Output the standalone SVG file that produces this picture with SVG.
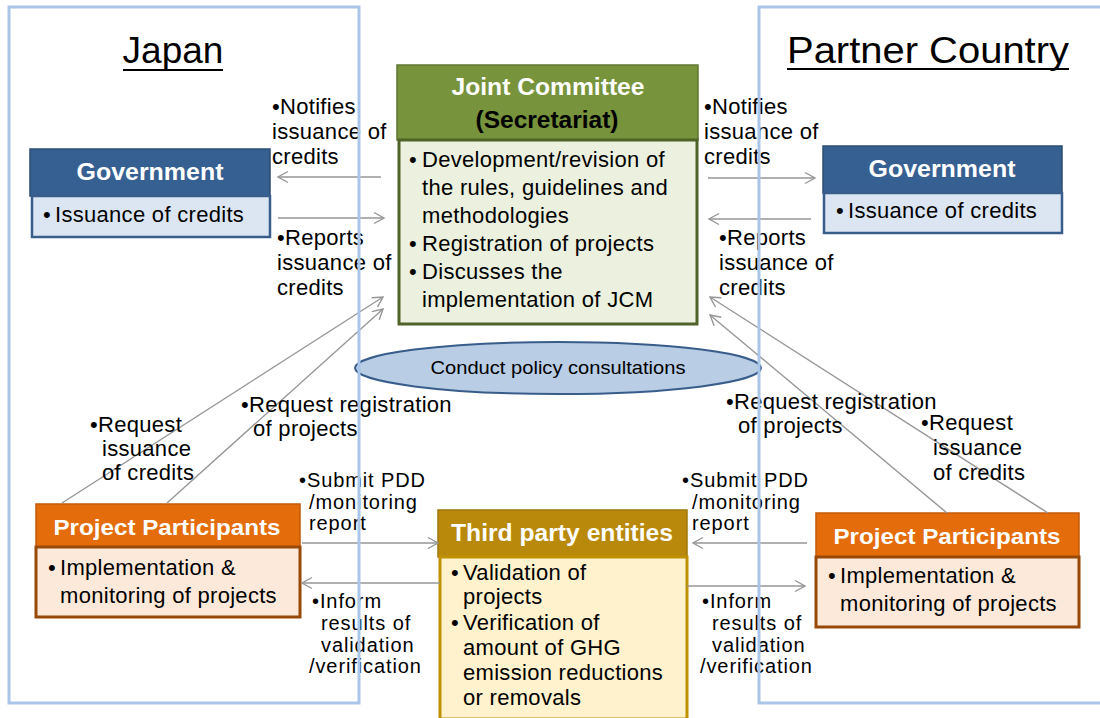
<svg xmlns="http://www.w3.org/2000/svg" width="1100" height="718" viewBox="0 0 1100 718">
<style>
text{font-family:"Liberation Sans",Arial,sans-serif;fill:#000}
.t{font-size:22px;letter-spacing:0.3px}
.tt{font-size:20px;letter-spacing:0.9px}
.hd{font-size:23px;font-weight:bold;fill:#fff;text-anchor:middle}
.ttl{font-size:37px;text-anchor:middle}
.panel{fill:none;stroke:#a9c6ea;stroke-width:3}
.arr{stroke:#969696;stroke-width:1.4;fill:none;marker-end:url(#ah)}
.ul{stroke:#000;stroke-width:2}
</style>
<defs>
<marker id="ah" markerUnits="userSpaceOnUse" markerWidth="14" markerHeight="14" refX="11" refY="7" orient="auto">
<path d="M1,1.5 L11,7 L1,12.5" fill="none" stroke="#969696" stroke-width="1.4"/>
</marker>
</defs>
<rect width="1100" height="718" fill="#fff"/>

<g id="japan-title">
<text class="ttl" x="173" y="63">Japan</text>
<line class="ul" x1="123" y1="70" x2="223" y2="70"/>
</g>
<g id="partner-title">
<text class="ttl" x="928" y="63" textLength="282" lengthAdjust="spacingAndGlyphs">Partner Country</text>
<line class="ul" x1="787" y1="69" x2="1069" y2="69"/>
</g>

<g id="joint-committee">
<rect x="397" y="65" width="301" height="75" fill="#77933c" stroke="#5f7530" stroke-width="1.5"/>
<rect x="399" y="140" width="298" height="184" fill="#ebf1de" stroke="#4f6228" stroke-width="3"/>
<text class="hd" x="548" y="95" textLength="193" lengthAdjust="spacingAndGlyphs">Joint Committee</text>
<text class="hd" x="547" y="128" style="fill:#000" textLength="143" lengthAdjust="spacingAndGlyphs">(Secretariat)</text>
<text class="t"><tspan x="409" y="167">•</tspan><tspan x="422" y="167">Development/revision  of</tspan></text>
<text class="t" x="422" y="195">the rules, guidelines and</text>
<text class="t" x="422" y="223">methodologies</text>
<text class="t"><tspan x="409" y="251">•</tspan><tspan x="422" y="251">Registration of projects</tspan></text>
<text class="t"><tspan x="409" y="279">•</tspan><tspan x="422" y="279">Discusses the</tspan></text>
<text class="t" x="422" y="307">implementation of JCM</text>
</g>

<g id="policy-consultations">
<ellipse cx="558" cy="368" rx="203" ry="26" fill="#b9cde5" stroke="#385d8a" stroke-width="2"/>
<text x="558" y="374" style="font-size:19px;text-anchor:middle" textLength="255" lengthAdjust="spacingAndGlyphs">Conduct policy consultations</text>
</g>

<g id="gov-japan">
<rect x="30" y="149" width="240" height="47" fill="#376092" stroke="#2c4d75" stroke-width="1.5"/>
<rect x="32" y="196" width="238" height="41" fill="#dce6f2" stroke="#385d8a" stroke-width="2.5"/>
<text class="hd" x="150" y="180" textLength="147" lengthAdjust="spacingAndGlyphs">Government</text>
<text class="t"><tspan x="43" y="222">•</tspan><tspan x="55" y="222">Issuance of credits</tspan></text>
</g>

<g id="gov-partner">
<rect x="823" y="146" width="239" height="47" fill="#376092" stroke="#2c4d75" stroke-width="1.5"/>
<rect x="824" y="193" width="238" height="40" fill="#dce6f2" stroke="#385d8a" stroke-width="2.5"/>
<text class="hd" x="942" y="177" textLength="147" lengthAdjust="spacingAndGlyphs">Government</text>
<text class="t"><tspan x="836" y="218">•</tspan><tspan x="848" y="218">Issuance of credits</tspan></text>
</g>

<g id="pp-japan">
<rect x="36" y="504" width="264" height="43" fill="#e46c0a" stroke="#c55a08" stroke-width="1.5"/>
<rect x="36" y="547" width="264" height="70" fill="#fde9d9" stroke="#984807" stroke-width="3"/>
<text class="hd" x="167" y="535" style="font-size:22px" textLength="227" lengthAdjust="spacingAndGlyphs">Project Participants</text>
<text class="t"><tspan x="48" y="575">•</tspan><tspan x="60" y="575">Implementation &amp;</tspan></text>
<text class="t" x="60" y="603">monitoring of projects</text>
</g>

<g id="pp-partner">
<rect x="816" y="513" width="263" height="44" fill="#e46c0a" stroke="#c55a08" stroke-width="1.5"/>
<rect x="816" y="557" width="263" height="70" fill="#fde9d9" stroke="#984807" stroke-width="3"/>
<text class="hd" x="947" y="544" style="font-size:22px" textLength="227" lengthAdjust="spacingAndGlyphs">Project Participants</text>
<text class="t"><tspan x="828" y="583">•</tspan><tspan x="840" y="583">Implementation &amp;</tspan></text>
<text class="t" x="840" y="611">monitoring of projects</text>
</g>

<g id="third-party">
<rect x="438" y="510" width="249" height="47" fill="#b8890a" stroke="#a07708" stroke-width="1.5"/>
<rect x="440" y="557" width="247" height="162" fill="#fff2cc" stroke="#bf9000" stroke-width="3"/>
<text class="hd" x="562" y="541" textLength="222" lengthAdjust="spacingAndGlyphs">Third party entities</text>
<text class="t"><tspan x="451" y="580">•</tspan><tspan x="463" y="580">Validation of</tspan></text>
<text class="t" x="463" y="604">projects</text>
<text class="t"><tspan x="451" y="630">•</tspan><tspan x="463" y="630">Verification of</tspan></text>
<text class="t" x="463" y="655">amount of GHG</text>
<text class="t" x="463" y="680">emission reductions</text>
<text class="t" x="463" y="705">or removals</text>
</g>

<g id="connectors">
<line class="arr" x1="381" y1="177" x2="278" y2="177"/>
<line class="arr" x1="278" y1="218" x2="384" y2="218"/>
<line class="arr" x1="62" y1="503" x2="383" y2="297"/>
<line class="arr" x1="167" y1="503" x2="383" y2="309"/>
<line class="arr" x1="302" y1="543" x2="438" y2="543"/>
<line class="arr" x1="440" y1="583" x2="302" y2="583"/>
<line class="arr" x1="708" y1="178" x2="815" y2="178"/>
<line class="arr" x1="811" y1="219" x2="709" y2="219"/>
<line class="arr" x1="1048" y1="513" x2="710" y2="297"/>
<line class="arr" x1="947" y1="513" x2="710" y2="315"/>
<line class="arr" x1="807" y1="543" x2="693" y2="543"/>
<line class="arr" x1="687" y1="586" x2="805" y2="586"/>
</g>

<g id="labels">
<text class="t" x="272" y="114">•Notifies</text>
<text class="t" x="272" y="139">issuance of</text>
<text class="t" x="272" y="164">credits</text>
<text class="t" x="277" y="245">•Reports</text>
<text class="t" x="277" y="270">issuance of</text>
<text class="t" x="277" y="295">credits</text>
<text class="t" x="704" y="114">•Notifies</text>
<text class="t" x="704" y="139">issuance of</text>
<text class="t" x="704" y="164">credits</text>
<text class="t" x="719" y="245">•Reports</text>
<text class="t" x="719" y="270">issuance of</text>
<text class="t" x="719" y="295">credits</text>
<text class="t" x="90" y="432">•Request</text>
<text class="t" x="102" y="456">issuance</text>
<text class="t" x="102" y="480">of credits</text>
<text class="t" x="241" y="412">•Request  registration</text>
<text class="t" x="253" y="436">of projects</text>
<text class="t" x="726" y="409">•Request  registration</text>
<text class="t" x="738" y="433">of projects</text>
<text class="t" x="921" y="430">•Request</text>
<text class="t" x="933" y="455">issuance</text>
<text class="t" x="933" y="480">of credits</text>
<text class="tt" x="299" y="487">•Submit PDD</text>
<text class="tt" x="309" y="509">/monitoring</text>
<text class="tt" x="309" y="530">report</text>
<text class="tt" x="312" y="608">•Inform</text>
<text class="tt" x="321" y="630">results of</text>
<text class="tt" x="321" y="652">validation</text>
<text class="tt" x="309" y="673">/verification</text>
<text class="tt" x="682" y="487">•Submit PDD</text>
<text class="tt" x="692" y="509">/monitoring</text>
<text class="tt" x="692" y="530">report</text>
<text class="tt" x="702" y="608">•Inform</text>
<text class="tt" x="712" y="630">results of</text>
<text class="tt" x="712" y="652">validation</text>
<text class="tt" x="700" y="673">/verification</text>
</g>

<g id="panels">
<rect class="panel" x="9" y="7" width="350" height="696"/>
<rect class="panel" x="759" y="7" width="345" height="696"/>
</g>
</svg>
